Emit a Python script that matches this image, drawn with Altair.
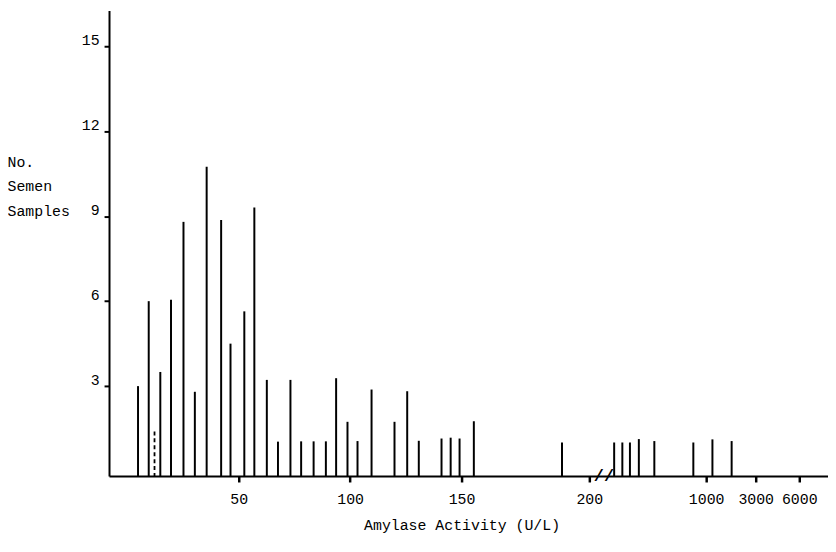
import altair as alt
import pandas as pd

# Amylase activity (U/L) of each spike and its count of semen samples
amylase = [4.8, 9.6, 14.8, 19.6, 25.2, 30.3, 35.6, 42.1, 46.3, 52.5,
           57.0, 62.6, 67.6, 73.2, 78.0, 83.6, 89.1, 93.7, 98.8, 103.3,
           109.6, 119.9, 125.6, 130.8, 141.0, 145.1, 149.1, 154.8, 189.3,
           370, 426, 478, 539, 645, 912, 1252, 2028]
samples = [3.0, 6.0, 3.5, 6.05, 8.8, 2.8, 10.75, 8.87, 4.5, 5.64,
           9.31, 3.22, 1.04, 3.22, 1.05, 1.05, 1.05, 3.28, 1.74, 1.06,
           2.88, 1.74, 2.82, 1.07, 1.15, 1.18, 1.15, 1.76, 1.01,
           1.01, 1.01, 1.01, 1.13, 1.06, 1.01, 1.12, 1.06]

dashed_amylase = [12.2]
dashed_samples = [1.4]

x_ticks = [50, 100, 150, 200, 1000, 3000, 6000]
y_ticks = [3, 6, 9, 12, 15]
y_title = ["No.", "Semen", "Samples"]
x_title = "Amylase Activity (U/L)"

break_x = [300]
break_label = ["//"]

YMIN = -0.175
YMAX = 16.26
FONT = "Liberation Mono"

df = pd.DataFrame({"amylase": amylase, "samples": samples})
dfd = pd.DataFrame({"amylase": dashed_amylase, "samples": dashed_samples})
dfb = pd.DataFrame({"amylase": break_x, "label": break_label})

xscale = alt.Scale(domain=[-8.22, 150, 200, 1000, 3000, 6000, 6700],
                   range=[0, 356, 485, 603, 653, 697, 726], nice=False, zero=False)
yscale = alt.Scale(domain=[YMIN, YMAX], nice=False, zero=False)

xaxis = alt.Axis(values=x_ticks, grid=False, title=x_title, format="d",
                 labelFont=FONT, labelFontSize=15, labelColor="black",
                 labelPadding=10, labelFlush=False, labelOverlap=False,
                 tickSize=6, tickWidth=2.5, tickColor="black",
                 domainColor="black", domainWidth=2,
                 titleFont=FONT, titleFontSize=15, titleFontWeight="normal",
                 titleColor="black", titleX=356, titleY=49, titleBaseline="middle")
yaxis = alt.Axis(values=y_ticks, grid=False, title=y_title, format="d",
                 labelFont=FONT, labelFontSize=15, labelColor="black",
                 labelPadding=5, labelBaseline="alphabetic", labelOffset=-2,
                 labelOverlap=False,
                 tickSize=5, tickWidth=2, tickColor="black",
                 domainColor="black", domainWidth=2,
                 titleFont=FONT, titleFontSize=15, titleFontWeight="normal",
                 titleColor="black", titleAngle=0, titleAlign="left",
                 titleBaseline="alphabetic", titleX=-103, titleY=157,
                 titleLineHeight=25)

spikes = alt.Chart(df).mark_rule(color="black", strokeWidth=2).encode(
    x=alt.X("amylase:Q", scale=xscale, axis=xaxis),
    y=alt.Y("samples:Q", scale=yscale, axis=yaxis),
    y2=alt.datum(YMIN),
)

dashed = alt.Chart(dfd).mark_rule(color="black", strokeWidth=1.8, strokeDash=[4, 3]).encode(
    x=alt.X("amylase:Q", scale=xscale),
    y=alt.Y("samples:Q", scale=yscale),
    y2=alt.datum(YMIN),
)

brk = alt.Chart(dfb).mark_text(font=FONT, fontSize=17, fontWeight="bold",
                               color="black", baseline="middle", align="center").encode(
    x=alt.X("amylase:Q", scale=xscale),
    y=alt.Y("y:Q", scale=yscale),
    text="label:N",
).transform_calculate(y=str(YMIN))

chart = alt.layer(spikes, dashed, brk).properties(
    width=726, height=470,
    background="white",
    autosize=alt.AutoSizeParams(type="none"),
    padding={"left": 102, "top": 0, "right": 0, "bottom": 66},
).configure_view(strokeWidth=0, stroke="transparent").configure_axis(grid=False)

chart.save("out.html", embed_options={"renderer": "svg", "actions": False})
